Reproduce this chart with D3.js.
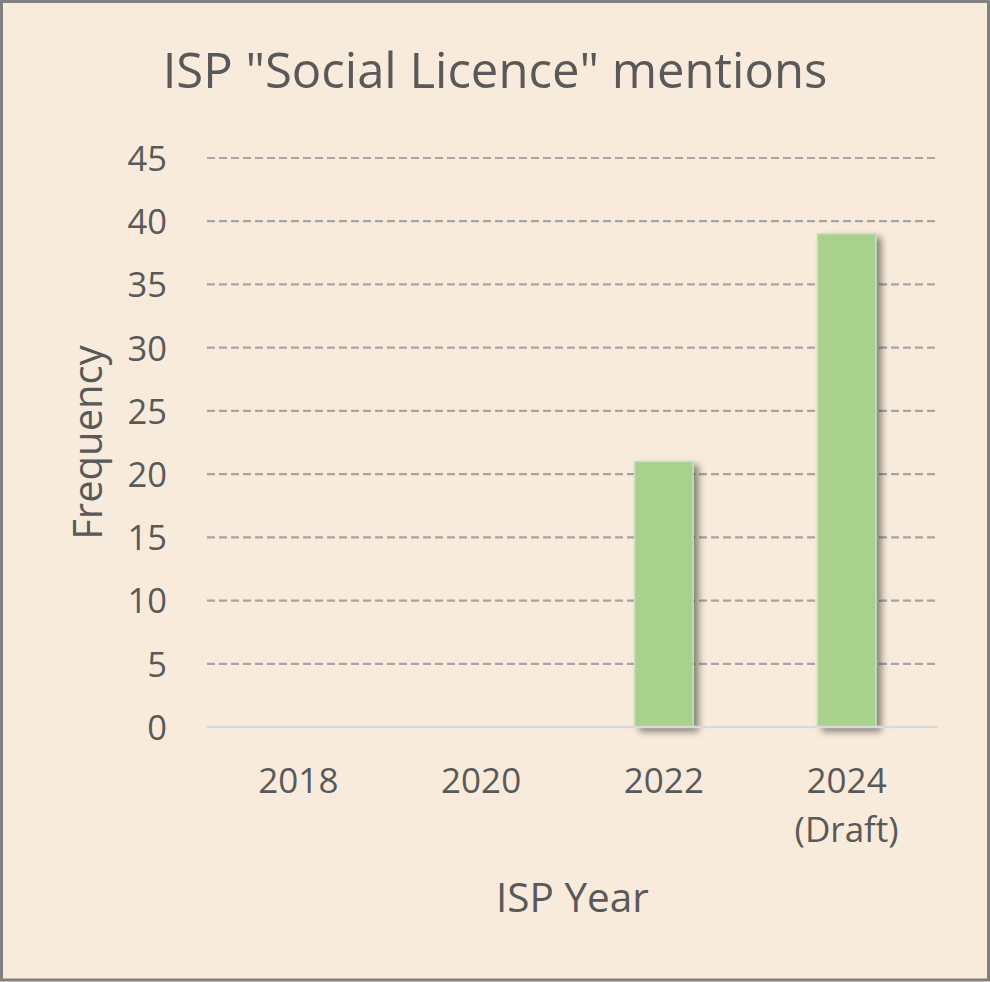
<!DOCTYPE html>
<html>
<head>
<meta charset="utf-8">
<script src="https://cdn.jsdelivr.net/npm/d3@7"></script>
<style>
    body { margin: 0; background: #ffffff; }
    text { font-family: "Open Sans", sans-serif; fill: #595959; }
</style>
</head>
<body>
<div id="chart"></div>
<script>
// chart values
const years = ["2018", "2020", "2022", "2024"];
const yearNotes = ["", "", "", "(Draft)"];
const mentions = [0, 0, 21, 39];
const yTicks = [0, 5, 10, 15, 20, 25, 30, 35, 40, 45];
const titleText = "ISP \"Social Licence\" mentions";
const xTitle = "ISP Year";
const yTitle = "Frequency";

const width = 990, height = 982;
const margin = { top: 158, right: 52, bottom: 255, left: 207 };

let svg = d3.select("#chart").append("svg")
    .attr("width", width)
    .attr("height", height);

// drop shadow for the bars
let filter = svg.append("defs").append("filter")
    .attr("id", "shadow")
    .attr("x", "-30%").attr("y", "-10%")
    .attr("width", "180%").attr("height", "130%");
filter.append("feGaussianBlur").attr("in", "SourceAlpha").attr("stdDeviation", 3.5);
filter.append("feOffset").attr("dx", 5).attr("dy", 4).attr("result", "off");
filter.append("feComponentTransfer").call(c => c.append("feFuncA").attr("type", "linear").attr("slope", 0.45));
let merge = filter.append("feMerge");
merge.append("feMergeNode");
merge.append("feMergeNode").attr("in", "SourceGraphic");

// background + frame
svg.append("rect")
    .attr("x", 1.5).attr("y", 1.5)
    .attr("width", width - 3).attr("height", height - 3.5)
    .attr("fill", "#f8ebdb")
    .attr("stroke", "#808080")
    .attr("stroke-width", 3);

let x = d3.scaleBand()
    .domain(years)
    .range([margin.left, width - margin.right])
    .paddingInner(0.68)
    .paddingOuter(0.34);

let y = d3.scaleLinear()
    .domain([0, 45])
    .range([height - margin.bottom, margin.top]);

// gridlines
svg.append("g")
    .selectAll("line")
    .data(yTicks.filter(d => d > 0))
    .join("line")
    .attr("x1", margin.left)
    .attr("x2", width - margin.right)
    .attr("y1", d => y(d))
    .attr("y2", d => y(d))
    .style("stroke", "#a5a5a5")
    .style("stroke-width", 2.2)
    .style("stroke-dasharray", "8,4");

// y axis labels
let yAxis = svg.append("g")
    .attr("transform", `translate(${margin.left - 40},0)`)
    .call(d3.axisLeft(y).tickValues(yTicks).tickSize(0).tickPadding(0));
yAxis.select(".domain").remove();
yAxis.selectAll("text")
    .style("font-size", "34.5px")
    .attr("dy", "0.36em");

// bars
svg.append("g")
    .selectAll("rect")
    .data(years.map((d, i) => ({ year: d, value: mentions[i] })).filter(d => d.value > 0))
    .join("rect")
    .attr("x", d => x(d.year))
    .attr("width", x.bandwidth())
    .attr("y", d => y(d.value))
    .attr("height", d => y(0) - y(d.value))
    .attr("fill", "#a9d18e")
    .attr("stroke", "#c5e0b4")
    .attr("stroke-width", 1.5)
    .attr("filter", "url(#shadow)");

// baseline
svg.append("line")
    .attr("x1", margin.left)
    .attr("x2", width - margin.right)
    .attr("y1", y(0))
    .attr("y2", y(0))
    .style("stroke", "#d9d9d9")
    .style("stroke-width", 2.5);

// x axis labels
let xAxis = svg.append("g")
    .attr("transform", `translate(0,${y(0)})`)
    .call(d3.axisBottom(x).tickSize(0).tickPadding(0).tickFormat(() => ""));
xAxis.select(".domain").remove();
xAxis.selectAll(".tick text").remove();
xAxis.selectAll(".tick").each(function (d, i) {
    let t = d3.select(this).append("text")
        .attr("text-anchor", "middle")
        .style("font-size", "35px");
    t.append("tspan").attr("x", 0).attr("y", 66).text(d);
    if (yearNotes[i]) {
        t.append("tspan").attr("x", 0).attr("y", 115).text(yearNotes[i]);
    }
});

// titles
svg.append("text")
    .attr("x", width / 2)
    .attr("y", 88)
    .attr("text-anchor", "middle")
    .style("font-size", "49px")
    .text(titleText);

svg.append("text")
    .attr("x", (margin.left + width - margin.right) / 2)
    .attr("y", 912)
    .attr("text-anchor", "middle")
    .style("font-size", "40.5px")
    .text(xTitle);

svg.append("text")
    .attr("transform", `translate(102,${(y(0) + y(45)) / 2}) rotate(-90)`)
    .attr("text-anchor", "middle")
    .style("font-size", "40px")
    .text(yTitle);
</script>
</body>
</html>
